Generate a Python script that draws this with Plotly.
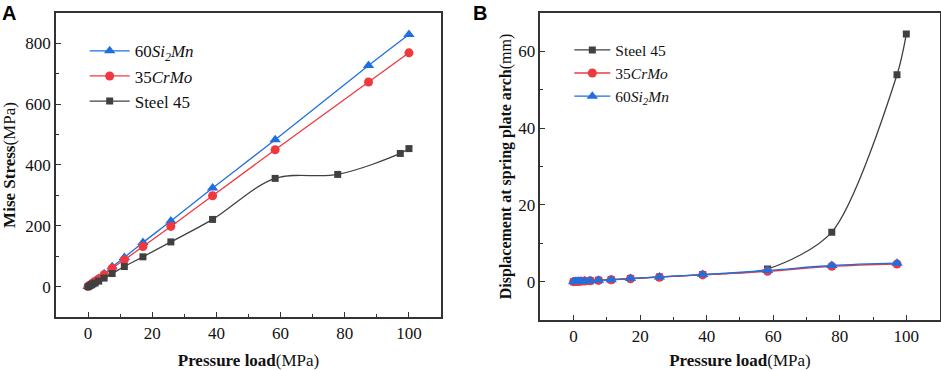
import plotly.graph_objects as go

# ---------- Data ----------
# Panel A: Mise stress vs pressure load
xa_alloy = [0, 0.5, 1.0, 1.5, 2.2, 3.3, 5.0, 7.5, 11.3, 17.1, 25.8, 38.8, 58.3, 87.4, 100]
ya_si2mn = [0, 4, 9, 14, 19, 27, 42, 65, 96, 145, 216, 324, 483, 727, 829]
ya_crmo = [0, 4, 8, 12, 17, 25, 39, 60, 88, 132, 198, 299, 450, 673, 769]
xa_steel = [0, 0.5, 1.0, 1.5, 2.2, 3.3, 5.0, 7.5, 11.3, 17.1, 25.8, 38.8, 58.3, 77.8, 97.3, 100]
ya_steel = [0, 3, 6, 9, 12, 18, 28, 43, 66, 98, 147, 221, 356, 369, 438, 454]

# Panel B: Displacement at spring plate arch vs pressure load
xb_alloy = [0, 0.5, 1.0, 1.5, 2.2, 3.3, 5.0, 7.5, 11.3, 17.1, 25.8, 38.8, 58.3, 77.6, 97.2]
yb_crmo = [0, 0.02, 0.04, 0.06, 0.09, 0.14, 0.21, 0.32, 0.48, 0.75, 1.15, 1.75, 2.7, 4.0, 4.6]
yb_si2mn = [0, 0.02, 0.05, 0.07, 0.10, 0.15, 0.23, 0.35, 0.52, 0.80, 1.22, 1.85, 2.9, 4.2, 4.8]
xb_steel = [0, 0.5, 1.0, 1.5, 2.2, 3.3, 5.0, 7.5, 11.3, 17.1, 25.8, 38.8, 58.3, 77.6, 97.2, 100]
yb_steel = [0, 0.02, 0.05, 0.07, 0.10, 0.15, 0.23, 0.35, 0.52, 0.80, 1.22, 1.85, 3.3, 12.9, 53.9, 64.5]

names = {"si2mn": "60<i>Si<sub>2</sub>Mn</i>", "crmo": "35<i>CrMo</i>", "steel": "Steel 45"}

BLUE = "#1f6fe0"
RED = "#f0383f"
GRAY = "#404040"
SERIF = "Times New Roman, serif"
TXT = "#111111"

fig = go.Figure()

# Panel A traces (legend order: 60Si2Mn, 35CrMo, Steel 45)
fig.add_trace(go.Scatter(x=xa_alloy, y=ya_si2mn, name=names["si2mn"], mode="lines+markers",
                         line=dict(color=BLUE, width=1.3, shape="spline"),
                         marker=dict(symbol="triangle-up", size=10, color=BLUE),
                         xaxis="x", yaxis="y", legend="legend"))
fig.add_trace(go.Scatter(x=xa_alloy, y=ya_crmo, name=names["crmo"], mode="lines+markers",
                         line=dict(color=RED, width=1.3, shape="spline"),
                         marker=dict(symbol="circle", size=9, color=RED),
                         xaxis="x", yaxis="y", legend="legend"))
fig.add_trace(go.Scatter(x=xa_steel, y=ya_steel, name=names["steel"], mode="lines+markers",
                         line=dict(color=GRAY, width=1.3, shape="spline"),
                         marker=dict(symbol="square", size=7, color=GRAY),
                         xaxis="x", yaxis="y", legend="legend"))

# Panel B traces (legend order: Steel 45, 35CrMo, 60Si2Mn)
fig.add_trace(go.Scatter(x=xb_steel, y=yb_steel, name=names["steel"], mode="lines+markers",
                         line=dict(color=GRAY, width=1.3, shape="spline", smoothing=0.8),
                         marker=dict(symbol="square", size=7, color=GRAY),
                         xaxis="x2", yaxis="y2", legend="legend2"))
fig.add_trace(go.Scatter(x=xb_alloy, y=yb_crmo, name=names["crmo"], mode="lines+markers",
                         line=dict(color=RED, width=1.3, shape="spline"),
                         marker=dict(symbol="circle", size=9, color=RED),
                         xaxis="x2", yaxis="y2", legend="legend2"))
fig.add_trace(go.Scatter(x=xb_alloy, y=yb_si2mn, name=names["si2mn"], mode="lines+markers",
                         line=dict(color=BLUE, width=1.3, shape="spline"),
                         marker=dict(symbol="triangle-up", size=10, color=BLUE),
                         xaxis="x2", yaxis="y2", legend="legend2"))

axis_common = dict(showline=True, linecolor="#333333", linewidth=1.5, mirror=True,
                   ticks="inside", ticklen=5, tickwidth=1.2, tickcolor="#333333",
                   showgrid=False, zeroline=False, automargin=False,
                   tickfont=dict(family=SERIF, size=17, color=TXT))
minor_common = dict(ticks="inside", ticklen=3, tickwidth=1.2, tickcolor="#333333")
title_font = dict(family=SERIF, size=17, color=TXT)

fig.update_layout(
    width=941, height=370,
    margin=dict(l=0, r=0, t=0, b=0),
    paper_bgcolor="white", plot_bgcolor="white",
    font=dict(family=SERIF, color=TXT),
    showlegend=True,
    xaxis=dict(domain=[0.0595, 0.4687], range=[-10, 110], dtick=20, anchor="y",
               minor=dict(dtick=10, **minor_common),
               title=dict(text="<b>Pressure load</b>(MPa)", font=title_font, standoff=14),
               **axis_common),
    yaxis=dict(domain=[0.1432, 0.9649], range=[-100, 900], dtick=200, anchor="x",
               minor=dict(dtick=100, **minor_common),
               title=dict(text="<b>Mise Stress</b>(MPa)", font=title_font, standoff=6),
               **axis_common),
    xaxis2=dict(domain=[0.5742, 0.9985], range=[-10, 110], dtick=20, anchor="y2",
                minor=dict(dtick=10, **minor_common),
                title=dict(text="<b>Pressure load</b>(MPa)", font=title_font, standoff=14),
                **axis_common),
    yaxis2=dict(domain=[0.1351, 0.9649], range=[-10, 70], dtick=20, anchor="x2",
                minor=dict(dtick=10, **minor_common),
                title=dict(text="<b>Displacement at spring plate arch</b>(mm)", font=dict(family=SERIF, size=16, color=TXT), standoff=3),
                **axis_common),
    legend=dict(x=0.09, y=0.91, xanchor="left", yanchor="top", bgcolor="rgba(0,0,0,0)",
                font=dict(family=SERIF, size=17, color=TXT), tracegroupgap=0, itemwidth=40),
    legend2=dict(x=0.605, y=0.91, xanchor="left", yanchor="top", bgcolor="rgba(0,0,0,0)",
                 font=dict(family=SERIF, size=15.5, color=TXT), tracegroupgap=0, itemwidth=36),
    annotations=[
        dict(text="<b>A</b>", x=0.0, y=1.0, xref="paper", yref="paper", xanchor="left", yanchor="top",
             showarrow=False, font=dict(family="Liberation Sans", size=20, color="black")),
        dict(text="<b>B</b>", x=0.5, y=1.0, xref="paper", yref="paper", xanchor="left", yanchor="top",
             showarrow=False, font=dict(family="Liberation Sans", size=20, color="black")),
    ],
)

fig.write_html("out.html", config={"displayModeBar": False},
               post_script="document.body.style.margin='0';document.body.style.overflow='hidden';")
